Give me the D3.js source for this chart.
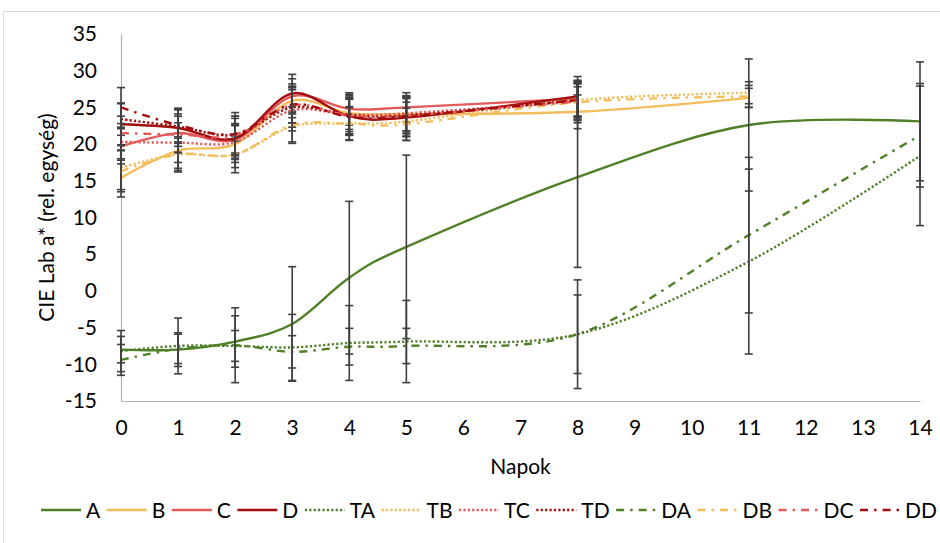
<!DOCTYPE html>
<html>
<style>
    body {
        margin: 0;
        background: #fff;
    }

    text {
        font-family: Lato, "Open Sans", sans-serif;
        fill: #000;
    }
</style>
<script src="https://d3js.org/d3.v7.min.js"></script>
<body>
<svg width="940" height="543"></svg>
<script>
    // napok (x) es a sorozatok ertekei
    const days = [0, 1, 2, 3, 4, 5, 8, 11, 14];
    const seriesNames = ["A", "B", "C", "D", "TA", "TB", "TC", "TD", "DA", "DB", "DC", "DD"];

    const valA = [-8.0, -8.0, -6.9, -4.5, 1.8, 6.0, 15.5, 22.6, 23.1];
    const errA = [1.8, 2.3, 3.5, 7.8, 10.4, 12.5, 12.3, 9.0, 8.1];
    const valB = [15.4, 19.1, 20.0, 25.9, 24.2, 24.1, 24.4, 26.3, null];
    const errB = [2.6, 2.4, 2.5, 2.3, 2.2, 2.3, 2.3, 1.3, null];
    const valC = [19.7, 21.5, 20.6, 26.5, 24.8, 25.0, 26.2, null, null];
    const errC = [2.4, 2.6, 2.2, 2.4, 2.2, 2.0, 2.5, null, null];
    const valD = [22.7, 22.2, 20.8, 26.9, 23.8, 23.6, 26.5, null, null];
    const errD = [2.8, 2.5, 2.7, 2.6, 2.4, 2.6, 2.7, null, null];
    const valTA = [-8.2, -7.5, -7.5, -7.7, -7.1, -6.9, -5.9, 4.0, 18.4];
    const errTA = [2.8, 3.8, 2.1, 4.5, 5.1, 5.6, 7.4, 12.6, 9.5];
    const valTB = [16.8, 18.6, 18.6, 22.4, 22.8, 23.1, 26.0, 27.0, null];
    const errTB = [3.0, 2.2, 1.8, 2.1, 2.2, 2.6, 2.2, 1.5, null];
    const valTC = [20.3, 20.2, 20.3, 24.6, 24.0, 24.2, 25.8, null, null];
    const errTC = [2.5, 2.7, 2.4, 2.8, 2.3, 2.4, 2.6, null, null];
    const valTD = [23.4, 22.4, 21.3, 25.0, 24.0, 23.9, 26.0, null, null];
    const errTD = [2.2, 2.3, 2.5, 2.7, 2.8, 2.5, 2.4, null, null];
    const valDA = [-9.4, -7.9, -7.4, -8.3, -7.6, -7.5, -5.9, 7.6, 21.2];
    const errDA = [2.1, 2.0, 5.1, 2.2, 2.5, 2.4, 5.35, 10.6, 7.05];
    const valDB = [16.3, 18.6, 18.6, 22.6, 22.8, 22.7, 25.7, 26.5, null];
    const errDB = [2.8, 2.4, 2.5, 2.5, 2.3, 2.2, 2.8, 1.5, null];
    const valDC = [21.5, 21.3, 21.2, 25.3, 23.9, 23.9, 25.8, null, null];
    const errDC = [2.3, 2.5, 2.6, 2.4, 2.7, 2.4, 2.5, null, null];
    const valDD = [25.0, 22.6, 21.4, 25.4, 23.7, 23.8, 26.0, null, null];
    const errDD = [2.7, 2.3, 2.9, 2.5, 2.4, 2.7, 2.6, null, null];

    const xTicks = [0, 1, 2, 3, 4, 5, 6, 7, 8, 9, 10, 11, 12, 13, 14];
    const yTicks = [-15, -10, -5, 0, 5, 10, 15, 20, 25, 30, 35];

    const green = "#4f7f26", yellow = "#f3bd5c", red = "#e35a5a", darkRed = "#a30d0d";
    const dotted = "2.2,2.2";
    const dashDot = "8,6,2.5,6";

    const series = [
        {name: "A", vals: valA, errs: errA, color: green, dash: null},
        {name: "B", vals: valB, errs: errB, color: yellow, dash: null},
        {name: "C", vals: valC, errs: errC, color: red, dash: null},
        {name: "D", vals: valD, errs: errD, color: darkRed, dash: null},
        {name: "TA", vals: valTA, errs: errTA, color: green, dash: dotted},
        {name: "TB", vals: valTB, errs: errTB, color: yellow, dash: dotted},
        {name: "TC", vals: valTC, errs: errTC, color: red, dash: dotted},
        {name: "TD", vals: valTD, errs: errTD, color: darkRed, dash: dotted},
        {name: "DA", vals: valDA, errs: errDA, color: green, dash: dashDot},
        {name: "DB", vals: valDB, errs: errDB, color: yellow, dash: dashDot},
        {name: "DC", vals: valDC, errs: errDC, color: red, dash: dashDot},
        {name: "DD", vals: valDD, errs: errDD, color: darkRed, dash: dashDot}
    ];

    const svg = d3.select("svg");

    // chart frame
    svg.append("rect")
        .attr("x", 3.5).attr("y", 11.5)
        .attr("width", 960).attr("height", 560)
        .attr("fill", "none")
        .attr("stroke", "#d9d9d9");

    const x = d3.scaleLinear().domain([0, 14]).range([121, 920]);
    const y = d3.scaleLinear().domain([-15, 35]).range([401, 34]);

    // axes (plain hyphen for negatives, like the original)
    const yAxis = svg.append("g")
        .attr("transform", `translate(${x(0)},0)`)
        .call(d3.axisLeft(y).tickValues(yTicks).tickFormat(d => String(d)).tickSize(0).tickPadding(24));
    yAxis.select(".domain").attr("stroke", "#b3b3b3").attr("stroke-width", 1.2);
    yAxis.selectAll("text").style("font-size", "21px");

    const xAxis = svg.append("g")
        .attr("transform", `translate(0,${y(-15)})`)
        .call(d3.axisBottom(x).tickValues(xTicks).tickFormat(d => String(d)).tickSize(0).tickPadding(19));
    xAxis.select(".domain").attr("stroke", "#b3b3b3").attr("stroke-width", 1.2);
    xAxis.selectAll("text").style("font-size", "21px");

    svg.append("text")
        .attr("x", (x(0) + x(14)) / 2)
        .attr("y", 474)
        .attr("text-anchor", "middle")
        .style("font-size", "21px")
        .text("Napok");

    svg.append("text")
        .attr("transform", `translate(54,${(y(-15) + y(35)) / 2}) rotate(-90)`)
        .attr("text-anchor", "middle")
        .style("font-size", "21px")
        .text("CIE Lab a* (rel. egység)");

    const line = d3.line()
        .x(d => x(d.day))
        .y(d => y(d.v))
        .curve(d3.curveCatmullRom.alpha(0));

    const plot = svg.append("g");

    series.forEach(s => {
        const pts = days.map((d, i) => ({day: d, v: s.vals[i], e: s.errs[i]}))
            .filter(p => p.v !== null);

        plot.append("path")
            .datum(pts)
            .attr("fill", "none")
            .attr("stroke", s.color)
            .attr("stroke-width", 2.4)
            .attr("stroke-dasharray", s.dash)
            .attr("d", line);

        // error bars
        const eb = plot.append("g")
            .attr("stroke", "#404040")
            .attr("stroke-width", 1.6);
        pts.forEach(p => {
            const cx = x(p.day);
            eb.append("line")
                .attr("x1", cx).attr("x2", cx)
                .attr("y1", y(p.v - p.e)).attr("y2", y(p.v + p.e));
            [p.v - p.e, p.v + p.e].forEach(t => {
                eb.append("line")
                    .attr("x1", cx - 4).attr("x2", cx + 4)
                    .attr("y1", y(t)).attr("y2", y(t));
            });
        });
    });

    // legend
    const legend = svg.append("g").attr("transform", "translate(0,510)");
    const items = series.map(s => {
        const g = legend.append("g");
        g.append("line")
            .attr("x1", 0).attr("x2", 40)
            .attr("stroke", s.color)
            .attr("stroke-width", 2.4)
            .attr("stroke-dasharray", s.dash);
        const t = g.append("text")
            .attr("x", 45)
            .attr("dy", "0.36em")
            .style("font-size", "21px")
            .text(s.name);
        return {g: g, w: 45 + t.node().getComputedTextLength()};
    });
    const totalText = d3.sum(items, d => d.w);
    const gap = (937 - 41 - totalText) / (items.length - 1);
    let pos = 41;
    items.forEach(it => {
        it.g.attr("transform", `translate(${pos},0)`);
        pos += it.w + gap;
    });
</script>
</body>
</html>
